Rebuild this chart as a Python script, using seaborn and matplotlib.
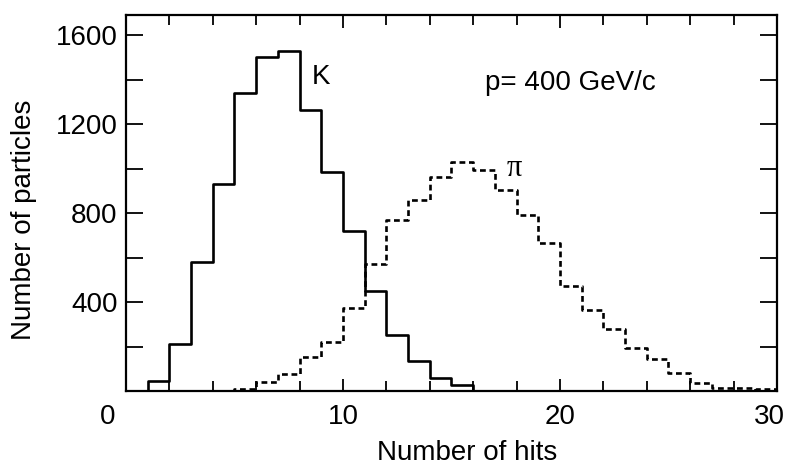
import numpy as np
import pandas as pd
import matplotlib
matplotlib.use("Agg")
import matplotlib.pyplot as plt
import matplotlib.transforms as mtransforms
from matplotlib.ticker import MultipleLocator
import seaborn as sns

# ---- data ----
k_edges = list(range(0, 18))            # bin edges, K mesons
k_counts = [0, 45, 210, 580, 930, 1340, 1500, 1530, 1265, 985, 720,
            450, 250, 135, 60, 25, 0]
pi_edges = list(range(4, 31))           # bin edges, pions
pi_counts = [0, 8, 40, 78, 152, 220, 375, 570, 770, 860, 960, 1030, 995,
             905, 790, 665, 474, 363, 277, 193, 145, 82, 34, 15, 12, 9]
x_ticks = [0, 10, 20, 30]
y_ticks = [400, 800, 1200, 1600]

k_df = pd.DataFrame({"hits": np.array(k_edges[:-1]) + 0.5, "n": k_counts})
pi_df = pd.DataFrame({"hits": np.array(pi_edges[:-1]) + 0.5, "n": pi_counts})

sns.set_style("ticks")
plt.rcParams["font.family"] = ["Liberation Sans", "DejaVu Sans"]
for key in ["text.color", "axes.labelcolor", "xtick.color", "ytick.color",
            "axes.edgecolor"]:
    plt.rcParams[key] = "black"

fig = plt.figure(figsize=(7.9, 4.67), dpi=100)
ax = fig.add_axes([126 / 790, 1 - 391 / 467, 651 / 790, 376 / 467])

sns.histplot(data=k_df, x="hits", weights="n", bins=k_edges, element="step",
             fill=False, color="black", linewidth=1.9, ax=ax)
sns.histplot(data=pi_df, x="hits", weights="n", bins=pi_edges, element="step",
             fill=False, color="black", linewidth=1.9,
             linestyle=(0, (2.2, 1.4)), ax=ax)

ax.set_xlim(0, 30)
ax.set_ylim(0, 1690)

ax.set_xticks(x_ticks)
ax.set_xticklabels([str(v) for v in x_ticks])
ax.xaxis.set_minor_locator(MultipleLocator(2))
ax.set_yticks(y_ticks)
ax.set_yticklabels([str(v) for v in y_ticks])
ax.yaxis.set_minor_locator(MultipleLocator(200))

ax.tick_params(axis="both", which="both", direction="in", top=True,
               right=True, color="black", labelcolor="black", width=1.3)
ax.tick_params(axis="x", which="major", length=9, pad=9, labelsize=20)
ax.tick_params(axis="x", which="minor", length=7)
ax.tick_params(axis="y", which="both", length=12)
ax.tick_params(axis="y", which="major", pad=6, labelsize=20)

for side in ["left", "right", "top", "bottom"]:
    ax.spines[side].set_visible(True)
    ax.spines[side].set_linewidth(1.6)
    ax.spines[side].set_color("black")

# slight label offsets as in the reference
labels = ax.get_xticklabels()
off0 = mtransforms.ScaledTranslation(-18 / 100, 0, fig.dpi_scale_trans)
off3 = mtransforms.ScaledTranslation(-8 / 100, 0, fig.dpi_scale_trans)
labels[0].set_transform(labels[0].get_transform() + off0)
labels[-1].set_transform(labels[-1].get_transform() + off3)

ax.set_xlabel("Number of hits", fontsize=20, color="black")
ax.set_ylabel("Number of particles", fontsize=20, color="black")
ax.xaxis.label.set_va("center")
ax.yaxis.label.set_va("center")
ax.xaxis.set_label_coords(0.524, -0.165)
ax.yaxis.set_label_coords(-0.157, 0.455)

ax.text(9.0, 1411, "K", fontsize=20, ha="center", va="center", color="black")
ax.text(16.55, 1385, "p= 400 GeV/c", fontsize=20, ha="left", va="center",
        color="black")
ax.text(17.9, 1002, "π", fontsize=22, ha="center", va="center", color="black",
        family=["Liberation Serif", "DejaVu Serif"])

fig.savefig("out.png", dpi=100)
